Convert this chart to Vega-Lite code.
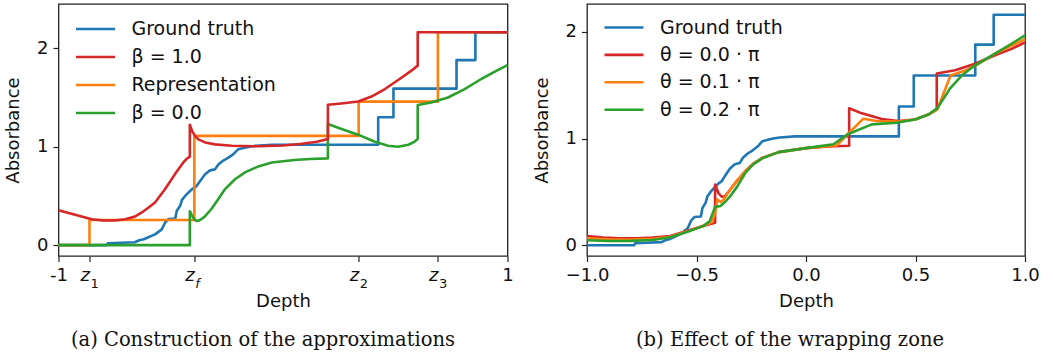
{
  "$schema": "https://vega.github.io/schema/vega-lite/v6.json",
  "background": "white",
  "padding": {"left": 3.5, "top": 3, "right": 0, "bottom": 0},
  "spacing": 17.5,
  "config": {
    "font": "DejaVu Sans",
    "view": {"stroke": "#222", "strokeWidth": 1.3},
    "axis": {"grid": false, "domain": false, "tickColor": "#222", "tickSize": 5.5, "tickWidth": 1.2, "labelFont": "DejaVu Sans", "labelFontSize": 18, "labelColor": "#111", "labelPadding": 5, "titleFont": "DejaVu Sans", "titleFontSize": 18, "titleFontWeight": "normal", "titleColor": "#111", "labelFlush": false, "labelOverlap": false},
    "legend": {"orient": "none", "legendX": 25.5, "legendY": 13.5, "padding": 0, "symbolType": "M-2,0H2", "symbolSize": 380, "symbolStrokeWidth": 2.6, "labelFont": "DejaVu Sans", "labelFontSize": 19, "labelColor": "#111", "labelOffset": 24.5, "rowPadding": 6, "title": null},
    "title": {"font": "DejaVu Serif", "fontSize": 19.5, "fontWeight": "normal", "color": "#111"},
    "line": {"strokeWidth": 2.6, "strokeCap": "butt", "strokeJoin": "round"}
  },
  "datasets": {
    "gt": [
      {"d": -1, "a": 0}, {"d": -0.785, "a": 0}, {"d": -0.78, "a": 0.02}, {"d": -0.66, "a": 0.03}, {"d": -0.64, "a": 0.05}, {"d": -0.62, "a": 0.06}, {"d": -0.6, "a": 0.08}, {"d": -0.57, "a": 0.11}, {"d": -0.555, "a": 0.135}, {"d": -0.54, "a": 0.16}, {"d": -0.525, "a": 0.23}, {"d": -0.51, "a": 0.265}, {"d": -0.48, "a": 0.27}, {"d": -0.473, "a": 0.35}, {"d": -0.458, "a": 0.4}, {"d": -0.45, "a": 0.46}, {"d": -0.436, "a": 0.5}, {"d": -0.414, "a": 0.55}, {"d": -0.399, "a": 0.58}, {"d": -0.385, "a": 0.6}, {"d": -0.37, "a": 0.65}, {"d": -0.347, "a": 0.72}, {"d": -0.325, "a": 0.76}, {"d": -0.303, "a": 0.77}, {"d": -0.288, "a": 0.82}, {"d": -0.266, "a": 0.86}, {"d": -0.243, "a": 0.89}, {"d": -0.221, "a": 0.925}, {"d": -0.199, "a": 0.975}, {"d": -0.17, "a": 0.99}, {"d": -0.15, "a": 1.0}, {"d": -0.12, "a": 1.01}, {"d": -0.05, "a": 1.02}, {"d": 0.424, "a": 1.02}, {"d": 0.424, "a": 1.3}, {"d": 0.492, "a": 1.3}, {"d": 0.492, "a": 1.59}, {"d": 0.773, "a": 1.59}, {"d": 0.773, "a": 1.88}, {"d": 0.857, "a": 1.88}, {"d": 0.857, "a": 2.16}, {"d": 1.0, "a": 2.16}
    ],
    "left": [
      {"s": "Representation", "d": -1, "a": 0}, {"s": "Representation", "d": -0.862, "a": 0}, {"s": "Representation", "d": -0.862, "a": 0.255}, {"s": "Representation", "d": -0.395, "a": 0.255}, {"s": "Representation", "d": -0.395, "a": 1.11}, {"s": "Representation", "d": 0.337, "a": 1.11}, {"s": "Representation", "d": 0.337, "a": 1.458}, {"s": "Representation", "d": 0.69, "a": 1.458}, {"s": "Representation", "d": 0.69, "a": 2.163}, {"s": "Representation", "d": 1, "a": 2.163},
      {"s": "β = 0.0", "d": -1, "a": 0}, {"s": "β = 0.0", "d": -0.415, "a": 0}, {"s": "β = 0.0", "d": -0.415, "a": 0.345}, {"s": "β = 0.0", "d": -0.405, "a": 0.3}, {"s": "β = 0.0", "d": -0.395, "a": 0.262}, {"s": "β = 0.0", "d": -0.385, "a": 0.245}, {"s": "β = 0.0", "d": -0.375, "a": 0.25}, {"s": "β = 0.0", "d": -0.36, "a": 0.27}, {"s": "β = 0.0", "d": -0.347, "a": 0.295}, {"s": "β = 0.0", "d": -0.318, "a": 0.37}, {"s": "β = 0.0", "d": -0.288, "a": 0.47}, {"s": "β = 0.0", "d": -0.258, "a": 0.57}, {"s": "β = 0.0", "d": -0.214, "a": 0.67}, {"s": "β = 0.0", "d": -0.169, "a": 0.74}, {"s": "β = 0.0", "d": -0.11, "a": 0.8}, {"s": "β = 0.0", "d": -0.05, "a": 0.84}, {"s": "β = 0.0", "d": 0.05, "a": 0.865}, {"s": "β = 0.0", "d": 0.12, "a": 0.875}, {"s": "β = 0.0", "d": 0.2, "a": 0.882}, {"s": "β = 0.0", "d": 0.2, "a": 1.23}, {"s": "β = 0.0", "d": 0.261, "a": 1.18}, {"s": "β = 0.0", "d": 0.337, "a": 1.12}, {"s": "β = 0.0", "d": 0.409, "a": 1.05}, {"s": "β = 0.0", "d": 0.468, "a": 1.01}, {"s": "β = 0.0", "d": 0.513, "a": 1.0}, {"s": "β = 0.0", "d": 0.558, "a": 1.02}, {"s": "β = 0.0", "d": 0.585, "a": 1.05}, {"s": "β = 0.0", "d": 0.6, "a": 1.078}, {"s": "β = 0.0", "d": 0.6, "a": 1.424}, {"s": "β = 0.0", "d": 0.66, "a": 1.45}, {"s": "β = 0.0", "d": 0.735, "a": 1.5}, {"s": "β = 0.0", "d": 0.809, "a": 1.586}, {"s": "β = 0.0", "d": 0.883, "a": 1.688}, {"s": "β = 0.0", "d": 0.95, "a": 1.77}, {"s": "β = 0.0", "d": 1.0, "a": 1.83},
      {"s": "β = 1.0", "d": -1, "a": 0.356}, {"s": "β = 1.0", "d": -0.926, "a": 0.308}, {"s": "β = 1.0", "d": -0.852, "a": 0.264}, {"s": "β = 1.0", "d": -0.8, "a": 0.25}, {"s": "β = 1.0", "d": -0.75, "a": 0.25}, {"s": "β = 1.0", "d": -0.703, "a": 0.264}, {"s": "β = 1.0", "d": -0.66, "a": 0.29}, {"s": "β = 1.0", "d": -0.629, "a": 0.332}, {"s": "β = 1.0", "d": -0.6, "a": 0.38}, {"s": "β = 1.0", "d": -0.57, "a": 0.434}, {"s": "β = 1.0", "d": -0.525, "a": 0.57}, {"s": "β = 1.0", "d": -0.481, "a": 0.722}, {"s": "β = 1.0", "d": -0.444, "a": 0.84}, {"s": "β = 1.0", "d": -0.43, "a": 0.875}, {"s": "β = 1.0", "d": -0.415, "a": 0.9}, {"s": "β = 1.0", "d": -0.415, "a": 1.224}, {"s": "β = 1.0", "d": -0.405, "a": 1.16}, {"s": "β = 1.0", "d": -0.392, "a": 1.11}, {"s": "β = 1.0", "d": -0.377, "a": 1.075}, {"s": "β = 1.0", "d": -0.347, "a": 1.044}, {"s": "β = 1.0", "d": -0.303, "a": 1.024}, {"s": "β = 1.0", "d": -0.228, "a": 1.01}, {"s": "β = 1.0", "d": -0.11, "a": 1.005}, {"s": "β = 1.0", "d": 0.0, "a": 1.012}, {"s": "β = 1.0", "d": 0.076, "a": 1.028}, {"s": "β = 1.0", "d": 0.15, "a": 1.05}, {"s": "β = 1.0", "d": 0.2, "a": 1.078}, {"s": "β = 1.0", "d": 0.2, "a": 1.427}, {"s": "β = 1.0", "d": 0.26, "a": 1.44}, {"s": "β = 1.0", "d": 0.335, "a": 1.46}, {"s": "β = 1.0", "d": 0.394, "a": 1.51}, {"s": "β = 1.0", "d": 0.454, "a": 1.586}, {"s": "β = 1.0", "d": 0.513, "a": 1.678}, {"s": "β = 1.0", "d": 0.572, "a": 1.773}, {"s": "β = 1.0", "d": 0.6, "a": 1.824}, {"s": "β = 1.0", "d": 0.6, "a": 2.163}, {"s": "β = 1.0", "d": 1.0, "a": 2.163}
    ],
    "right": [
      {"s": "θ = 0.0 · π", "d": -1, "a": 0.087}, {"s": "θ = 0.0 · π", "d": -0.924, "a": 0.072}, {"s": "θ = 0.0 · π", "d": -0.85, "a": 0.066}, {"s": "θ = 0.0 · π", "d": -0.77, "a": 0.066}, {"s": "θ = 0.0 · π", "d": -0.7, "a": 0.072}, {"s": "θ = 0.0 · π", "d": -0.62, "a": 0.087}, {"s": "θ = 0.0 · π", "d": -0.544, "a": 0.134}, {"s": "θ = 0.0 · π", "d": -0.47, "a": 0.18}, {"s": "θ = 0.0 · π", "d": -0.415, "a": 0.212}, {"s": "θ = 0.0 · π", "d": -0.415, "a": 0.57}, {"s": "θ = 0.0 · π", "d": -0.4, "a": 0.49}, {"s": "θ = 0.0 · π", "d": -0.385, "a": 0.455}, {"s": "θ = 0.0 · π", "d": -0.37, "a": 0.46}, {"s": "θ = 0.0 · π", "d": -0.354, "a": 0.5}, {"s": "θ = 0.0 · π", "d": -0.323, "a": 0.584}, {"s": "θ = 0.0 · π", "d": -0.278, "a": 0.693}, {"s": "θ = 0.0 · π", "d": -0.24, "a": 0.765}, {"s": "θ = 0.0 · π", "d": -0.2, "a": 0.817}, {"s": "θ = 0.0 · π", "d": -0.125, "a": 0.873}, {"s": "θ = 0.0 · π", "d": 0.0, "a": 0.91}, {"s": "θ = 0.0 · π", "d": 0.103, "a": 0.925}, {"s": "θ = 0.0 · π", "d": 0.197, "a": 0.932}, {"s": "θ = 0.0 · π", "d": 0.197, "a": 1.283}, {"s": "θ = 0.0 · π", "d": 0.255, "a": 1.236}, {"s": "θ = 0.0 · π", "d": 0.346, "a": 1.183}, {"s": "θ = 0.0 · π", "d": 0.422, "a": 1.165}, {"s": "θ = 0.0 · π", "d": 0.498, "a": 1.178}, {"s": "θ = 0.0 · π", "d": 0.559, "a": 1.225}, {"s": "θ = 0.0 · π", "d": 0.597, "a": 1.27}, {"s": "θ = 0.0 · π", "d": 0.597, "a": 1.61}, {"s": "θ = 0.0 · π", "d": 0.681, "a": 1.64}, {"s": "θ = 0.0 · π", "d": 0.772, "a": 1.7}, {"s": "θ = 0.0 · π", "d": 0.863, "a": 1.78}, {"s": "θ = 0.0 · π", "d": 0.939, "a": 1.84}, {"s": "θ = 0.0 · π", "d": 1.0, "a": 1.9},
      {"s": "θ = 0.1 · π", "d": -1, "a": 0.066}, {"s": "θ = 0.1 · π", "d": -0.9, "a": 0.056}, {"s": "θ = 0.1 · π", "d": -0.8, "a": 0.053}, {"s": "θ = 0.1 · π", "d": -0.7, "a": 0.06}, {"s": "θ = 0.1 · π", "d": -0.62, "a": 0.08}, {"s": "θ = 0.1 · π", "d": -0.544, "a": 0.13}, {"s": "θ = 0.1 · π", "d": -0.47, "a": 0.18}, {"s": "θ = 0.1 · π", "d": -0.43, "a": 0.215}, {"s": "θ = 0.1 · π", "d": -0.415, "a": 0.3}, {"s": "θ = 0.1 · π", "d": -0.405, "a": 0.43}, {"s": "θ = 0.1 · π", "d": -0.39, "a": 0.405}, {"s": "θ = 0.1 · π", "d": -0.375, "a": 0.43}, {"s": "θ = 0.1 · π", "d": -0.354, "a": 0.5}, {"s": "θ = 0.1 · π", "d": -0.323, "a": 0.584}, {"s": "θ = 0.1 · π", "d": -0.278, "a": 0.693}, {"s": "θ = 0.1 · π", "d": -0.24, "a": 0.765}, {"s": "θ = 0.1 · π", "d": -0.2, "a": 0.817}, {"s": "θ = 0.1 · π", "d": -0.125, "a": 0.873}, {"s": "θ = 0.1 · π", "d": 0.0, "a": 0.91}, {"s": "θ = 0.1 · π", "d": 0.14, "a": 0.935}, {"s": "θ = 0.1 · π", "d": 0.19, "a": 1.04}, {"s": "θ = 0.1 · π", "d": 0.262, "a": 1.186}, {"s": "θ = 0.1 · π", "d": 0.323, "a": 1.164}, {"s": "θ = 0.1 · π", "d": 0.414, "a": 1.158}, {"s": "θ = 0.1 · π", "d": 0.498, "a": 1.178}, {"s": "θ = 0.1 · π", "d": 0.559, "a": 1.225}, {"s": "θ = 0.1 · π", "d": 0.6, "a": 1.275}, {"s": "θ = 0.1 · π", "d": 0.66, "a": 1.59}, {"s": "θ = 0.1 · π", "d": 0.72, "a": 1.632}, {"s": "θ = 0.1 · π", "d": 0.78, "a": 1.69}, {"s": "θ = 0.1 · π", "d": 0.86, "a": 1.79}, {"s": "θ = 0.1 · π", "d": 0.94, "a": 1.87}, {"s": "θ = 0.1 · π", "d": 1.0, "a": 1.93},
      {"s": "θ = 0.2 · π", "d": -1, "a": 0.047}, {"s": "θ = 0.2 · π", "d": -0.9, "a": 0.04}, {"s": "θ = 0.2 · π", "d": -0.8, "a": 0.042}, {"s": "θ = 0.2 · π", "d": -0.7, "a": 0.05}, {"s": "θ = 0.2 · π", "d": -0.62, "a": 0.075}, {"s": "θ = 0.2 · π", "d": -0.544, "a": 0.125}, {"s": "θ = 0.2 · π", "d": -0.47, "a": 0.18}, {"s": "θ = 0.2 · π", "d": -0.44, "a": 0.225}, {"s": "θ = 0.2 · π", "d": -0.415, "a": 0.36}, {"s": "θ = 0.2 · π", "d": -0.39, "a": 0.368}, {"s": "θ = 0.2 · π", "d": -0.37, "a": 0.405}, {"s": "θ = 0.2 · π", "d": -0.346, "a": 0.46}, {"s": "θ = 0.2 · π", "d": -0.316, "a": 0.545}, {"s": "θ = 0.2 · π", "d": -0.278, "a": 0.675}, {"s": "θ = 0.2 · π", "d": -0.24, "a": 0.76}, {"s": "θ = 0.2 · π", "d": -0.2, "a": 0.815}, {"s": "θ = 0.2 · π", "d": -0.125, "a": 0.873}, {"s": "θ = 0.2 · π", "d": 0.0, "a": 0.91}, {"s": "θ = 0.2 · π", "d": 0.125, "a": 0.947}, {"s": "θ = 0.2 · π", "d": 0.191, "a": 1.04}, {"s": "θ = 0.2 · π", "d": 0.3, "a": 1.133}, {"s": "θ = 0.2 · π", "d": 0.414, "a": 1.148}, {"s": "θ = 0.2 · π", "d": 0.498, "a": 1.178}, {"s": "θ = 0.2 · π", "d": 0.559, "a": 1.225}, {"s": "θ = 0.2 · π", "d": 0.6, "a": 1.285}, {"s": "θ = 0.2 · π", "d": 0.658, "a": 1.47}, {"s": "θ = 0.2 · π", "d": 0.711, "a": 1.59}, {"s": "θ = 0.2 · π", "d": 0.772, "a": 1.686}, {"s": "θ = 0.2 · π", "d": 0.863, "a": 1.795}, {"s": "θ = 0.2 · π", "d": 0.94, "a": 1.89}, {"s": "θ = 0.2 · π", "d": 1.0, "a": 1.966}
    ],
    "subs": [
      {"d": -0.862, "t": "1"}, {"d": 0.337, "t": "2"}, {"d": 0.69, "t": "3"}
    ],
    "subf": [
      {"d": -0.395, "t": "f"}
    ]
  },
  "hconcat": [
    {
      "width": 449,
      "height": 252,
      "title": {"text": "(a) Construction of the approximations", "orient": "bottom", "anchor": "middle", "dx": -20, "offset": 20},
      "layer": [
        {
          "data": {"name": "gt"},
          "mark": {"type": "line"},
          "encoding": {
            "x": {"field": "d", "type": "quantitative", "scale": {"domain": [-1, 1], "nice": false},
              "axis": {"title": "Depth", "values": [-1, -0.862, -0.395, 0.337, 0.69, 1],
                "labelExpr": "datum.value == -1 ? '-1' : datum.value == 1 ? '1' : 'z'",
                "labelFontStyle": {"condition": {"test": "abs(datum.value) < 1", "value": "italic"}, "value": "normal"},
                "labelAlign": {"condition": {"test": "abs(datum.value) < 1", "value": "right"}, "value": "center"},
                "titlePadding": 8}},
            "y": {"field": "a", "type": "quantitative", "scale": {"domain": [-0.11, 2.45], "nice": false, "zero": false},
              "axis": {"title": "Absorbance", "values": [0, 1, 2], "format": "d", "titlePadding": 14}},
            "color": {"datum": "Ground truth", "type": "nominal",
              "scale": {"domain": ["Ground truth", "β = 1.0", "Representation", "β = 0.0"], "range": ["#1f77b4", "#d62728", "#ff7f0e", "#2ca02c"]},
              "legend": {"legendY": 13.5}},
            "order": {"value": null}
          }
        },
        {
          "data": {"name": "left"},
          "mark": {"type": "line"},
          "encoding": {
            "x": {"field": "d", "type": "quantitative"},
            "y": {"field": "a", "type": "quantitative"},
            "color": {"field": "s", "type": "nominal"},
            "order": {"value": null}
          }
        },
        {
          "data": {"name": "subs"},
          "mark": {"type": "text", "align": "left", "baseline": "alphabetic", "fontSize": 13, "font": "DejaVu Sans", "dx": 1, "color": "#111"},
          "encoding": {
            "x": {"field": "d", "type": "quantitative"},
            "y": {"datum": -0.432, "type": "quantitative"},
            "text": {"field": "t"}
          }
        },
        {
          "data": {"name": "subf"},
          "mark": {"type": "text", "align": "left", "baseline": "alphabetic", "fontSize": 13, "font": "DejaVu Sans", "fontStyle": "italic", "dx": 1, "color": "#111"},
          "encoding": {
            "x": {"field": "d", "type": "quantitative"},
            "y": {"datum": -0.432, "type": "quantitative"},
            "text": {"field": "t"}
          }
        }
      ]
    },
    {
      "width": 438,
      "height": 252,
      "title": {"text": "(b) Effect of the wrapping zone", "orient": "bottom", "anchor": "middle", "dx": -16, "offset": 20},
      "layer": [
        {
          "data": {"name": "gt"},
          "mark": {"type": "line"},
          "encoding": {
            "x": {"field": "d", "type": "quantitative", "scale": {"domain": [-1, 1], "nice": false},
              "axis": {"title": "Depth", "values": [-1, -0.5, 0, 0.5, 1], "format": ".1f", "titlePadding": 8}},
            "y": {"field": "a", "type": "quantitative", "scale": {"domain": [-0.1, 2.26], "nice": false, "zero": false},
              "axis": {"title": "Absorbance", "values": [0, 1, 2], "format": "d", "titlePadding": 14}},
            "color": {"datum": "Ground truth", "type": "nominal",
              "scale": {"domain": ["Ground truth", "θ = 0.0 · π", "θ = 0.1 · π", "θ = 0.2 · π"], "range": ["#1f77b4", "#d62728", "#ff7f0e", "#2ca02c"]},
              "legend": {"legendY": 12, "rowPadding": 5.4}},
            "order": {"value": null}
          }
        },
        {
          "data": {"name": "right"},
          "mark": {"type": "line"},
          "encoding": {
            "x": {"field": "d", "type": "quantitative"},
            "y": {"field": "a", "type": "quantitative"},
            "color": {"field": "s", "type": "nominal"},
            "order": {"value": null}
          }
        }
      ]
    }
  ],
  "resolve": {"scale": {"color": "independent", "y": "independent"}, "legend": {"color": "independent"}}
}
